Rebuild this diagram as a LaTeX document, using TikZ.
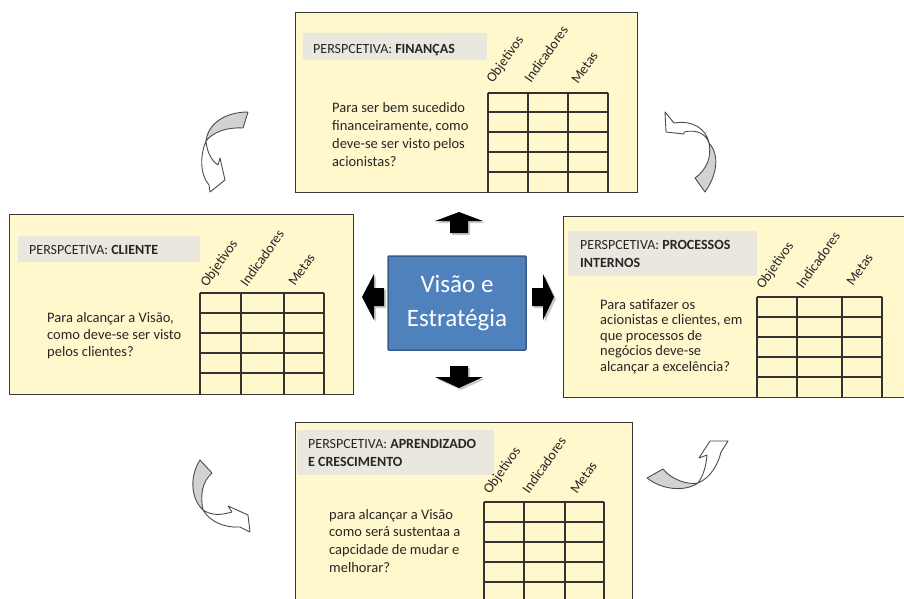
\documentclass[tikz,border=0pt]{standalone}
\usepackage{fontspec}
\setmainfont{Carlito}
\definecolor{boxfill}{HTML}{FFF8CC}
\definecolor{bandfill}{HTML}{E9E7DE}
\definecolor{visblue}{HTML}{4F81BD}
\definecolor{visedge}{HTML}{385D8A}
\definecolor{twistgray}{HTML}{D2D2D2}
\tikzset{
  persp/.style={draw=black!78, line width=1.3pt, fill=boxfill, inner sep=0pt, anchor=north west},
  band/.style={fill=bandfill, inner sep=0pt, anchor=north west},
  ttl/.style={anchor=base west, inner sep=0pt, text=black!85, font=\fontsize{14}{18}\selectfont},
  qtext/.style={anchor=base west, inner sep=0pt, text=black!85},
  hdr/.style={anchor=base west, inner sep=0pt, rotate=55, text=black!85, font=\fontsize{14}{16}\selectfont},
  tablerule/.style={draw=black!80, line width=1.1pt},
  vis/.style={draw=visedge, line width=1.5pt, fill=visblue, text=white, rounded corners=1pt,
    minimum width=138pt, minimum height=94pt, align=center, inner sep=0pt,
    font=\fontsize{25}{34}\selectfont},
  blockarrow/.style={fill=black},
  blockshadow/.style={fill=black!35, opacity=0.6},
  cband/.style={fill=twistgray, draw=black!70, line width=0.9pt, line join=round},
  cbody/.style={fill=white, draw=black!70, line width=0.9pt, line join=round},
}
% question text in a top-aligned box: the node baseline is the first line
\newcommand{\qlines}[3]{\parbox[t]{#1}{\fontsize{14.5}{#2}\selectfont\raggedright #3}}
\newcommand{\tlines}[2]{\parbox[t]{#1}{\fontsize{14}{18}\selectfont\raggedright #2}}
\begin{document}
\begin{tikzpicture}[x=1pt,y=-1pt]
\useasboundingbox (0,0) rectangle (904,598);
\fill[white] (0,0) rectangle (904,598);
\begin{scope}
\clip (0,0) rectangle (904,598);

% ---------------- FINANÇAS (top) ----------------
\node[persp, minimum width=342pt, minimum height=180pt] (fin) at (295,12) {};
\node[band, minimum width=184pt, minimum height=27pt] (finband) at (303,33) {};
\node[ttl] (fintitle) at (313,53) {PERSPCETIVA: \textbf{FINANÇAS}};
\node[qtext] (finq) at (332,112) {\qlines{160pt}{18.3}{Para ser bem sucedido\\financeiramente, como\\deve-se ser visto pelos\\acionistas?}};
\foreach \y in {93,112,132,152,172} \draw[tablerule] (488,\y) -- (608,\y);
\foreach \x in {488,528,568,608} \draw[tablerule] (\x,93) -- (\x,192);
\node[hdr] (finobj) at (493,84) {Objetivos};
\node[hdr] (finind) at (531,84) {Indicadores};
\node[hdr] (finmet) at (578,85) {Metas};

% ---------------- CLIENTE (left) ----------------
\node[persp, minimum width=344pt, minimum height=180pt] (cli) at (9,214) {};
\node[band, minimum width=182pt, minimum height=26pt] (cliband) at (18,236) {};
\node[ttl] (clititle) at (29,254) {PERSPCETIVA: \textbf{CLIENTE}};
\node[qtext] (cliq) at (47,322) {\qlines{150pt}{17.2}{Para alcançar a Visão,\\como deve-se ser visto\\pelos clientes?}};
\foreach \y in {293,313,333,353,373} \draw[tablerule] (200,\y) -- (324,\y);
\foreach \x in {200,241,284,324} \draw[tablerule] (\x,293) -- (\x,394);
\node[hdr] (cliobj) at (207,288) {Objetivos};
\node[hdr] (cliind) at (247,288) {Indicadores};
\node[hdr] (climet) at (295,287) {Metas};

% ---------------- PROCESSOS INTERNOS (right) ----------------
\node[persp, minimum width=360pt, minimum height=181pt] (pro) at (563,216) {};
\node[band, minimum width=189pt, minimum height=45pt] (proband) at (568,231) {};
\node[ttl] (protitle) at (580,249) {\tlines{180pt}{PERSPCETIVA: \textbf{PROCESSOS}\\\textbf{INTERNOS}}};
\node[qtext] (proq) at (600,309) {\qlines{160pt}{15.5}{Para satifazer os\\acionistas e clientes, em\\que processos de\\negócios deve-se\\alcançar a excelência?}};
\foreach \y in {297,317,337,357,377} \draw[tablerule] (757,\y) -- (882,\y);
\foreach \x in {757,797,842,882} \draw[tablerule] (\x,297) -- (\x,397);
\node[hdr] (proobj) at (763,290) {Objetivos};
\node[hdr] (proind) at (803,290) {Indicadores};
\node[hdr] (promet) at (853,287) {Metas};

% ---------------- APRENDIZADO E CRESCIMENTO (bottom) ----------------
\node[persp, minimum width=337pt, minimum height=200pt] (apr) at (295,422) {};
\node[band, minimum width=197pt, minimum height=45pt] (aprband) at (297,430) {};
\node[ttl] (aprtitle) at (308,448) {\tlines{190pt}{PERSPCETIVA: \textbf{APRENDIZADO}\\\textbf{E CRESCIMENTO}}};
\node[qtext] (aprq) at (329,519) {\qlines{160pt}{17.7}{para alcançar a Visão\\como será sustentaa a\\capcidade de mudar e\\melhorar?}};
\foreach \y in {502,522,542,562,582} \draw[tablerule] (484,\y) -- (604,\y);
\foreach \x in {484,524,565,604} \draw[tablerule] (\x,502) -- (\x,600);
\node[hdr] (aprobj) at (490,495) {Objetivos};
\node[hdr] (aprind) at (529,495) {Indicadores};
\node[hdr] (aprmet) at (577,495) {Metas};

% ---------------- centre ----------------
\node[vis] (vis) at (457,303) {Visão e\\Estratégia};

% block arrows pointing from the centre to each perspective
\begin{scope}[shift={(2,2)}]
  \fill[blockshadow] (459,212) -- (483,221) -- (468,221) -- (468,233) -- (450,233) -- (450,221) -- (435,221) -- cycle;
  \fill[blockshadow] (459,388) -- (483,377) -- (468,377) -- (468,366) -- (450,366) -- (450,377) -- (435,377) -- cycle;
  \fill[blockshadow] (362,297) -- (374,274) -- (374,288) -- (384,288) -- (384,306) -- (374,306) -- (374,320) -- cycle;
  \fill[blockshadow] (554,297) -- (543,274) -- (543,288) -- (532,288) -- (532,306) -- (543,306) -- (543,320) -- cycle;
\end{scope}
\fill[blockarrow] (459,212) -- (483,221) -- (468,221) -- (468,233) -- (450,233) -- (450,221) -- (435,221) -- cycle;
\fill[blockarrow] (459,388) -- (483,377) -- (468,377) -- (468,366) -- (450,366) -- (450,377) -- (435,377) -- cycle;
\fill[blockarrow] (362,297) -- (374,274) -- (374,288) -- (384,288) -- (384,306) -- (374,306) -- (374,320) -- cycle;
\fill[blockarrow] (554,297) -- (543,274) -- (543,288) -- (532,288) -- (532,306) -- (543,306) -- (543,320) -- cycle;

% curved twisted arrows running round the cycle
% top -> left
\draw[cband] (248,112) .. controls (226,112) and (208,123) .. (206,141)
  .. controls (213,132) and (227,127) .. (243,128) -- cycle;
\draw[cbody] (206,141) .. controls (199,158) and (201,176) .. (209,185) -- (210,192) -- (225,180)
  -- (220,158) -- (218,165) .. controls (211,160) and (207,152) .. (206,141) -- cycle;
% left -> bottom
\draw[cband] (200,460) .. controls (190,475) and (190,498) .. (203,510)
  .. controls (200,495) and (202,482) .. (212,473) -- cycle;
\draw[cbody] (203,510) .. controls (212,516) and (222,515) .. (232,512) -- (228,506) -- (248,515)
  -- (250,532) -- (240,527) .. controls (225,528) and (210,522) .. (203,510) -- cycle;
% bottom -> right
\draw[cband] (647,478) .. controls (662,490) and (685,492) .. (698,483)
  .. controls (688,485) and (672,480) .. (663,469) -- cycle;
\draw[cbody] (698,483) .. controls (710,478) and (718,465) .. (721,452) -- (728,441) -- (710,441)
  -- (699,458) -- (707,455) .. controls (706,467) and (703,476) .. (698,483) -- cycle;
% right -> top
\draw[cband] (705,192) .. controls (717,175) and (720,155) .. (709,143)
  .. controls (712,158) and (706,170) .. (695,178) -- cycle;
\draw[cbody] (709,143) .. controls (706,128) and (692,120) .. (674,123) -- (665,112) -- (666,132)
  -- (684,134) -- (684,132) .. controls (697,129) and (706,134) .. (709,143) -- cycle;
\end{scope}
\end{tikzpicture}
\end{document}
